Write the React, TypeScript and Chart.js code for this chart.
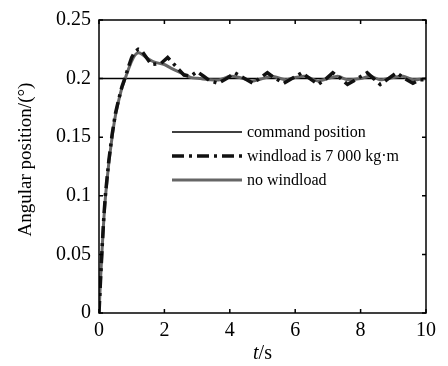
import React, { useEffect, useRef } from "react";
import { Chart, registerables } from "chart.js";

Chart.register(...registerables);

const xTicks = [0, 2, 4, 6, 8, 10];
const yTicks = [0, 0.05, 0.1, 0.15, 0.2, 0.25];

const commandT = [0, 10];
const commandV = [0.2, 0.2];

const windT = [0, 0.05, 0.1, 0.15, 0.2, 0.3, 0.4, 0.5, 0.6, 0.7, 0.8, 0.9, 1.0, 1.1, 1.2, 1.3, 1.4, 1.6, 1.9, 2.1, 2.3, 2.6, 2.8, 3.0, 3.2, 3.4, 3.65, 3.9, 4.15, 4.4, 4.7, 4.9, 5.15, 5.4, 5.65, 5.9, 6.2, 6.45, 6.7, 6.95, 7.15, 7.4, 7.6, 7.9, 8.2, 8.4, 8.6, 8.85, 9.1, 9.35, 9.6, 9.8, 10];
const windV = [0, 0.03, 0.058, 0.083, 0.102, 0.13, 0.152, 0.17, 0.182, 0.193, 0.201, 0.21, 0.218, 0.223, 0.225, 0.224, 0.22, 0.212, 0.213, 0.218, 0.212, 0.203, 0.202, 0.206, 0.202, 0.198, 0.196, 0.2, 0.205, 0.201, 0.196, 0.2, 0.205, 0.2, 0.196, 0.2, 0.205, 0.2, 0.195, 0.2, 0.205, 0.2, 0.195, 0.2, 0.205, 0.2, 0.195, 0.2, 0.205, 0.2, 0.196, 0.199, 0.199];

const noWindT = [0, 0.05, 0.1, 0.15, 0.2, 0.3, 0.4, 0.5, 0.6, 0.7, 0.8, 0.9, 1.0, 1.1, 1.2, 1.3, 1.5, 1.7, 2.0, 2.2, 2.5, 2.8, 3.1, 3.4, 3.7, 4.0, 4.3, 4.7, 5.0, 5.3, 5.7, 6.0, 6.3, 6.7, 7.0, 7.3, 7.6, 8.0, 8.3, 8.6, 9.0, 9.3, 9.6, 10];
const noWindV = [0, 0.03, 0.057, 0.081, 0.1, 0.128, 0.15, 0.168, 0.181, 0.192, 0.2, 0.208, 0.215, 0.22, 0.222, 0.221, 0.217, 0.214, 0.212, 0.209, 0.205, 0.201, 0.2, 0.199, 0.199, 0.202, 0.201, 0.198, 0.2, 0.202, 0.199, 0.201, 0.202, 0.198, 0.2, 0.202, 0.199, 0.2, 0.202, 0.199, 0.201, 0.202, 0.199, 0.2];

const legendLabels = ["command position", "windload is 7 000 kg\u00b7m", "no windload"];
const yTitle = "Angular position/(\u00b0)";

const SERIF = "'Liberation Serif', 'Times New Roman', serif";

const toPts = (t: number[], v: number[]) => t.map((x, i) => ({ x, y: v[i] }));

const framePlugin = {
  id: "frame",
  afterDraw(chart: any) {
    const { ctx, chartArea: a, scales } = chart;
    const xs = scales.x;
    const ys = scales.y;
    ctx.save();
    ctx.strokeStyle = "#000";
    ctx.lineWidth = 1.5;
    ctx.strokeRect(a.left, a.top, a.right - a.left, a.bottom - a.top);
    const tl = 4;
    ctx.beginPath();
    xTicks.forEach((t) => {
      const px = xs.getPixelForValue(t);
      ctx.moveTo(px, a.bottom);
      ctx.lineTo(px, a.bottom - tl);
      ctx.moveTo(px, a.top);
      ctx.lineTo(px, a.top + tl);
    });
    yTicks.forEach((v) => {
      const py = ys.getPixelForValue(v);
      ctx.moveTo(a.left, py);
      ctx.lineTo(a.left + tl, py);
      ctx.moveTo(a.right, py);
      ctx.lineTo(a.right - tl, py);
    });
    ctx.stroke();

    // legend
    const lx0 = 172;
    const lx1 = 242;
    const rows = [132, 156, 180];
    ctx.font = `16px ${SERIF}`;
    ctx.fillStyle = "#000";
    ctx.textBaseline = "middle";
    ctx.textAlign = "left";
    rows.forEach((ry, i) => {
      ctx.beginPath();
      if (i === 0) {
        ctx.strokeStyle = "#000";
        ctx.lineWidth = 1.5;
        ctx.setLineDash([]);
      } else if (i === 1) {
        ctx.strokeStyle = "#111";
        ctx.lineWidth = 3.5;
        ctx.setLineDash([12, 5, 3, 5]);
      } else {
        ctx.strokeStyle = "#666";
        ctx.lineWidth = 3;
        ctx.setLineDash([]);
      }
      ctx.moveTo(lx0, ry);
      ctx.lineTo(lx1, ry);
      ctx.stroke();
      ctx.setLineDash([]);
      ctx.fillText(legendLabels[i], 247, ry + 1);
    });

    // y title
    ctx.save();
    ctx.font = `19px ${SERIF}`;
    ctx.translate(26, (a.top + a.bottom) / 2 - 7);
    ctx.rotate(-Math.PI / 2);
    ctx.textAlign = "center";
    ctx.textBaseline = "middle";
    ctx.fillText(yTitle, 0, 0);
    ctx.restore();

    // x title: italic t + "/s"
    ctx.textBaseline = "alphabetic";
    ctx.textAlign = "left";
    ctx.font = `italic 20px ${SERIF}`;
    const wT = ctx.measureText("t").width;
    ctx.font = `20px ${SERIF}`;
    const wS = ctx.measureText("/s").width;
    const cx = (a.left + a.right) / 2;
    const startX = cx - (wT + wS) / 2;
    ctx.font = `italic 20px ${SERIF}`;
    ctx.fillText("t", startX, 359);
    ctx.font = `20px ${SERIF}`;
    ctx.fillText("/s", startX + wT, 359);
    ctx.restore();
  },
};

export default function App() {
  const ref = useRef<HTMLCanvasElement>(null);
  useEffect(() => {
    document.body.style.margin = "0";
    const chart = new Chart(ref.current!, {
      type: "line",
      data: {
        datasets: [
          {
            label: legendLabels[1],
            data: toPts(windT, windV),
            borderColor: "#111",
            borderWidth: 3.5,
            borderDash: [12, 5, 3, 5],
            pointRadius: 0,
            tension: 0,
            order: 0,
          },
          {
            label: legendLabels[2],
            data: toPts(noWindT, noWindV),
            borderColor: "#666",
            borderWidth: 3,
            pointRadius: 0,
            tension: 0.2,
            order: 1,
          },
          {
            label: legendLabels[0],
            data: toPts(commandT, commandV),
            borderColor: "#000",
            borderWidth: 1.5,
            pointRadius: 0,
            order: 2,
          },
        ],
      },
      options: {
        animation: false,
        responsive: false,
        maintainAspectRatio: false,
        layout: { padding: { top: 15, right: 22, left: 0, bottom: 0 } },
        plugins: { legend: { display: false }, tooltip: { enabled: false } },
        scales: {
          x: {
            type: "linear",
            min: 0,
            max: 10,
            afterBuildTicks: (s: any) => {
              s.ticks = xTicks.map((v) => ({ value: v }));
            },
            afterFit: (s: any) => {
              s.height = 53;
            },
            grid: { display: false, drawTicks: false },
            border: { display: false },
            ticks: {
              padding: 6,
              color: "#000",
              font: { family: SERIF, size: 20 },
              maxRotation: 0,
              callback: (v: any) => String(v),
            },
          },
          y: {
            type: "linear",
            min: 0,
            max: 0.25,
            afterBuildTicks: (s: any) => {
              s.ticks = yTicks.map((v) => ({ value: v }));
            },
            afterFit: (s: any) => {
              s.width = 99;
            },
            grid: { display: false, drawTicks: false },
            border: { display: false },
            ticks: {
              padding: 8,
              color: "#000",
              font: { family: SERIF, size: 20 },
              callback: (v: any) => String(parseFloat(Number(v).toFixed(2))),
            },
          },
        },
      },
      plugins: [framePlugin],
    });
    return () => chart.destroy();
  }, []);
  return <canvas ref={ref} width={448} height={366} style={{ display: "block" }} />;
}
